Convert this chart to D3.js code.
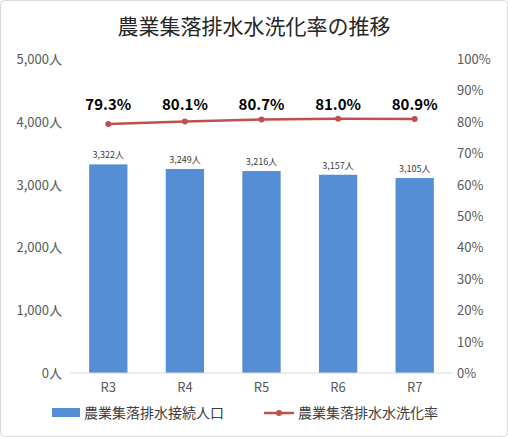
<!DOCTYPE html><html><head><meta charset="utf-8"><script src="https://cdn.jsdelivr.net/npm/d3@7"></script>
<style>body{margin:0;background:#fff}text{font-family:"Noto Sans CJK JP","Noto Sans",sans-serif}</style></head><body><svg id="c" width="508" height="437"></svg><script>
const categories=["R3","R4","R5","R6","R7"];
const population=[3322,3249,3216,3157,3105];
const rate=[79.3,80.1,80.7,81.0,80.9];
const leftTicks=[0,1000,2000,3000,4000,5000];
const rightTicks=[0,10,20,30,40,50,60,70,80,90,100];
const svg=d3.select("#c");
svg.append("rect").attr("x",0.5).attr("y",0.5).attr("width",507).attr("height",436).attr("rx",4).attr("fill","#fff").attr("stroke","#d9d9d9");
const x=d3.scaleBand().domain(categories).range([70,453]).paddingInner(0.5).paddingOuter(0.25);
const y=d3.scaleLinear().domain([0,5000]).range([373,59]);
const y2=d3.scaleLinear().domain([0,100]).range([373,59]);
svg.append("text").attr("x",254).attr("y",34).attr("text-anchor","middle").attr("font-size",21).attr("fill","#262626").text("農業集落排水水洗化率の推移");
leftTicks.forEach(t=>svg.append("text").attr("x",62).attr("y",y(t)+5).attr("text-anchor","end").attr("font-size",13).attr("fill","#595959").text(d3.format(",")(t)+"人"));
rightTicks.forEach(t=>svg.append("text").attr("x",457).attr("y",y2(t)+5).attr("font-size",13).attr("fill","#595959").text(t+"%"));
svg.selectAll(".b").data(population).join("rect").attr("x",(d,i)=>x(categories[i])).attr("y",d=>y(d)).attr("width",x.bandwidth()).attr("height",d=>373-y(d)).attr("fill","#558ed5");
svg.selectAll(".bl").data(population).join("text").attr("x",(d,i)=>x(categories[i])+x.bandwidth()/2).attr("y",d=>y(d)-6).attr("text-anchor","middle").attr("font-size",9).attr("fill","#404040").text(d=>d3.format(",")(d)+"人");
svg.append("line").attr("x1",70).attr("x2",453).attr("y1",373).attr("y2",373).attr("stroke","#d9d9d9");
categories.forEach(c=>svg.append("text").attr("x",x(c)+x.bandwidth()/2).attr("y",392).attr("text-anchor","middle").attr("font-size",13).attr("fill","#595959").text(c));
const cx=(d,i)=>x(categories[i])+x.bandwidth()/2;
svg.append("path").datum(rate).attr("d",d3.line().x(cx).y(d=>y2(d))).attr("fill","none").attr("stroke","#c0504d").attr("stroke-width",2.5);
svg.selectAll(".p").data(rate).join("circle").attr("cx",cx).attr("cy",d=>y2(d)).attr("r",3).attr("fill","#c0504d");
svg.selectAll(".pl").data(rate).join("text").attr("x",cx).attr("y",110).attr("text-anchor","middle").attr("font-size",15).attr("font-weight","bold").attr("fill","#000").text(d=>d.toFixed(1)+"%");
svg.append("rect").attr("x",52).attr("y",408).attr("width",28).attr("height",9).attr("fill","#558ed5");
svg.append("text").attr("x",84).attr("y",418).attr("font-size",14).attr("fill","#404040").text("農業集落排水接続人口");
svg.append("line").attr("x1",264).attr("x2",294).attr("y1",413).attr("y2",413).attr("stroke","#c0504d").attr("stroke-width",2.5);
svg.append("circle").attr("cx",279).attr("cy",413).attr("r",3).attr("fill","#c0504d");
svg.append("text").attr("x",298).attr("y",418).attr("font-size",14).attr("fill","#404040").text("農業集落排水水洗化率");
</script></body></html>
